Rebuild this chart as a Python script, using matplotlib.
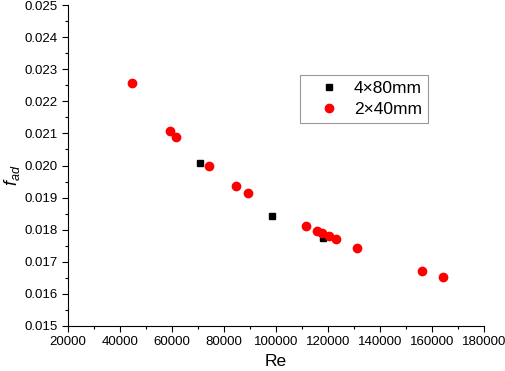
import matplotlib
matplotlib.use("Agg")
import matplotlib.pyplot as plt
from matplotlib.ticker import MultipleLocator, FormatStrFormatter

# 4x80mm channel
re_4x80 = [70800, 98500, 118100]
f_4x80 = [0.02009, 0.01844, 0.01773]

# 2x40mm channel
re_2x40 = [44500, 59200, 61500, 74200, 84600, 89100, 111400, 115800,
           117600, 120400, 123200, 131200, 156200, 164200]
f_2x40 = [0.02258, 0.02107, 0.02089, 0.01998, 0.01936, 0.01913, 0.01813, 0.01796,
          0.01791, 0.01780, 0.01770, 0.01743, 0.01672, 0.01652]

plt.rcParams['font.family'] = ['Liberation Sans', 'DejaVu Sans']
plt.rcParams['mathtext.fontset'] = 'custom'
plt.rcParams['mathtext.it'] = 'Liberation Sans:italic'
plt.rcParams['mathtext.rm'] = 'Liberation Sans'

fig = plt.figure(figsize=(5.05, 3.71), dpi=100)
ax = fig.add_axes([0.1347, 0.1213, 0.8233, 0.8652])

ax.plot(re_4x80, f_4x80, linestyle='none', marker='s', markersize=5,
        color='black', label='4×80mm')
ax.plot(re_2x40, f_2x40, linestyle='none', marker='o', markersize=6,
        color='#ff0000', markeredgecolor='#ff0000', label='2×40mm')

ax.set_xlim(20000, 180000)
ax.set_ylim(0.015, 0.025)
ax.xaxis.set_major_locator(MultipleLocator(20000))
ax.xaxis.set_minor_locator(MultipleLocator(10000))
ax.yaxis.set_major_locator(MultipleLocator(0.001))
ax.yaxis.set_minor_locator(MultipleLocator(0.0005))
ax.yaxis.set_major_formatter(FormatStrFormatter('%.3f'))

for s in ['top', 'right']:
    ax.spines[s].set_visible(False)
ax.tick_params(which='major', direction='out', length=4, width=0.8, labelsize=9.5)
ax.tick_params(which='minor', direction='out', length=2.5, width=0.8)

ax.set_xlabel('Re', fontsize=12.5, labelpad=4)
ax.set_ylabel(r'$f_{ad}$', fontsize=13)
ax.yaxis.set_label_coords(-0.11, 0.47)

leg = ax.legend(loc='upper left', bbox_to_anchor=(300 / 505, 1 - 75 / 371),
                bbox_transform=fig.transFigure, fontsize=12.5,
                frameon=True, fancybox=False, edgecolor='#808080',
                handletextpad=0.15, borderpad=0.35, labelspacing=0.3,
                handlelength=2.6, borderaxespad=0)
leg.get_frame().set_linewidth(0.8)

fig.savefig('out.png', dpi=100)
